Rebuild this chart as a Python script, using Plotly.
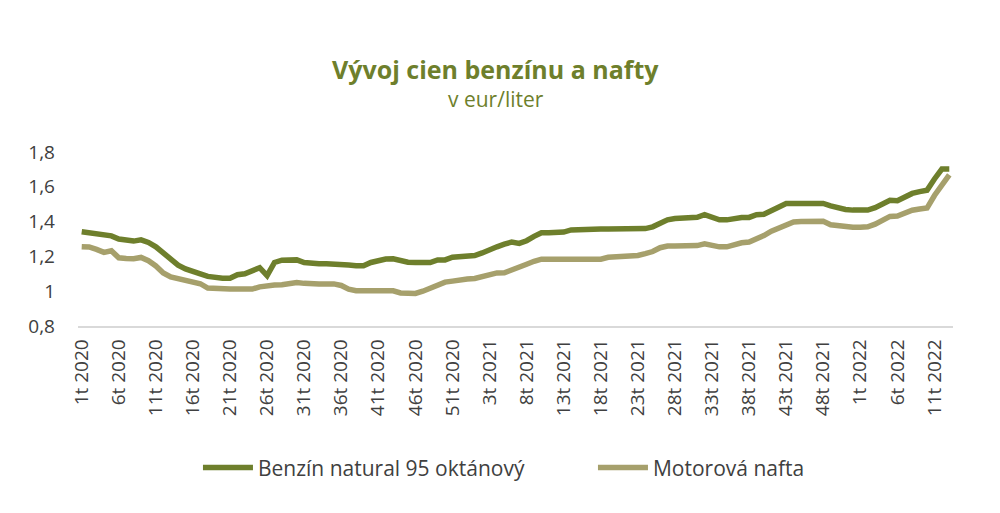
import plotly.graph_objects as go

# week labels: 2020 has 53 weeks, 2021 has 52, data runs to week 13 of 2022
weeks = [f"{w}t 2020" for w in range(1, 54)] + \
        [f"{w}t 2021" for w in range(1, 53)] + \
        [f"{w}t 2022" for w in range(1, 14)]

benzin = [
    1.342, 1.335, 1.328, 1.325, 1.318, 1.300, 1.290, 1.288, 1.295, 1.280,
    1.255, 1.220, 1.180, 1.150, 1.128, 1.110, 1.100, 1.085, 1.078, 1.075,
    1.075, 1.095, 1.100, 1.118, 1.135, 1.089, 1.165, 1.178, 1.180, 1.180,
    1.165, 1.160, 1.158, 1.158, 1.157, 1.155, 1.150, 1.146, 1.146, 1.165,
    1.178, 1.185, 1.186, 1.175, 1.167, 1.165, 1.165, 1.165, 1.180, 1.180,
    1.195, 1.198, 1.203, 1.205, 1.220, 1.241, 1.255, 1.270, 1.283, 1.275,
    1.290, 1.315, 1.336, 1.336, 1.336, 1.340, 1.352, 1.355, 1.356, 1.356,
    1.357, 1.358, 1.359, 1.358, 1.357, 1.356, 1.360, 1.370, 1.390, 1.410,
    1.418, 1.418, 1.418, 1.425, 1.440, 1.425, 1.410, 1.410, 1.420, 1.423,
    1.424, 1.440, 1.442, 1.460, 1.485, 1.504, 1.504, 1.504, 1.505, 1.504,
    1.504, 1.490, 1.477, 1.470, 1.466, 1.465, 1.466, 1.480, 1.500, 1.522,
    1.520, 1.540, 1.562, 1.572, 1.580, 1.645, 1.702, 1.702,
]

nafta = [
    1.256, 1.254, 1.240, 1.223, 1.232, 1.192, 1.188, 1.187, 1.194, 1.175,
    1.145, 1.105, 1.082, 1.072, 1.066, 1.060, 1.043, 1.018, 1.014, 1.013,
    1.012, 1.012, 1.012, 1.012, 1.025, 1.033, 1.036, 1.037, 1.045, 1.050,
    1.045, 1.041, 1.042, 1.042, 1.042, 1.033, 1.012, 1.003, 1.002, 1.002,
    1.002, 1.002, 1.002, 0.990, 0.987, 0.987, 1.000, 1.015, 1.035, 1.052,
    1.058, 1.068, 1.070, 1.073, 1.083, 1.100, 1.105, 1.106, 1.120, 1.138,
    1.155, 1.172, 1.184, 1.184, 1.184, 1.184, 1.184, 1.183, 1.183, 1.183,
    1.184, 1.195, 1.198, 1.198, 1.199, 1.205, 1.216, 1.228, 1.250, 1.260,
    1.260, 1.260, 1.260, 1.262, 1.272, 1.262, 1.255, 1.255, 1.270, 1.278,
    1.283, 1.298, 1.320, 1.345, 1.365, 1.385, 1.398, 1.400, 1.401, 1.401,
    1.402, 1.382, 1.375, 1.370, 1.368, 1.367, 1.370, 1.385, 1.408, 1.430,
    1.432, 1.448, 1.465, 1.472, 1.478, 1.550, 1.610, 1.668,
]

green = "#6E7F2C"
khaki = "#A6A06C"
text_col = "#404040"

fig = go.Figure()
fig.add_trace(go.Scatter(x=weeks, y=benzin, name="Benzín natural 95 oktánový",
                         mode="lines", line=dict(color=green, width=5.5)))
fig.add_trace(go.Scatter(x=weeks, y=nafta, name="Motorová nafta",
                         mode="lines", line=dict(color=khaki, width=5.5)))

# page body has an 8px margin, so the figure is a bit smaller than the window
fig.update_layout(
    width=992, height=505,
    margin=dict(l=70, r=47, t=143.5, b=186.5),
    plot_bgcolor="white", paper_bgcolor="white",
    font=dict(family="Open Sans", size=18, color=text_col),
    separators=",.",
    showlegend=True,
    legend=dict(orientation="h", x=0.1371, xanchor="left", y=-0.815, yanchor="middle",
                font=dict(size=21, color=text_col), itemwidth=50,
                entrywidth=330, traceorder="normal"),
    annotations=[
        dict(text="<b>Vývoj cien benzínu a nafty</b>", x=0.4776, y=1.477,
             xref="paper", yref="paper", showarrow=False,
             font=dict(size=25, color=green), yanchor="middle"),
        dict(text="v eur/liter", x=0.4776, y=1.306,
             xref="paper", yref="paper", showarrow=False,
             font=dict(size=21, color=green), yanchor="middle"),
    ],
)

fig.update_xaxes(type="category", range=[-0.5, len(weeks) - 0.5],
                 tickvals=weeks[::5], ticktext=weeks[::5], tickangle=-90,
                 showgrid=False, showline=True, linecolor="#D9D9D9", linewidth=1.5,
                 ticks="", tickfont=dict(size=19), ticklabelstandoff=4)
fig.update_yaxes(range=[0.8, 1.8], dtick=0.2, showgrid=False, zeroline=False,
                 ticks="", tickfont=dict(size=19), ticklabelstandoff=22)

fig.write_html("out.html")
